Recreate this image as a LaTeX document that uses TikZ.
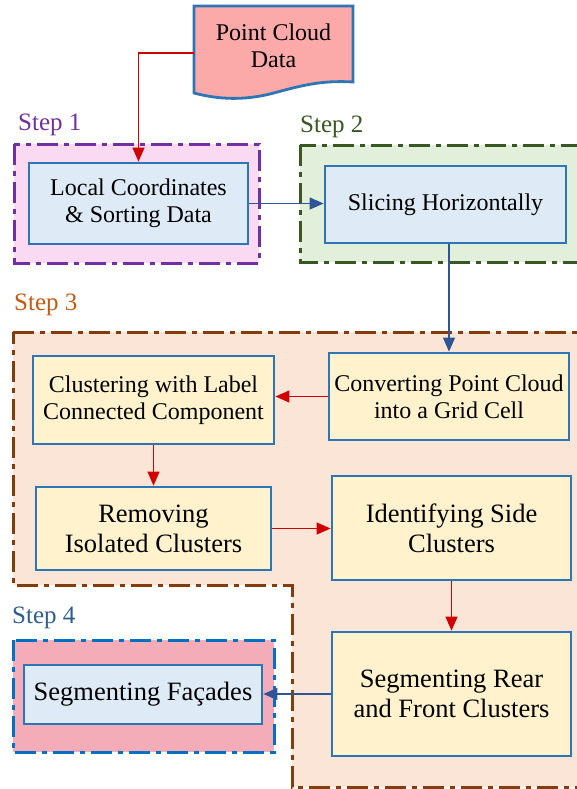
\documentclass[tikz,border=0pt]{standalone}
\usepackage{fontspec}
\setmainfont{Liberation Serif}
\newfontfamily\diagfont{Liberation Serif}
\usetikzlibrary{arrows.meta}
\definecolor{boxblue}{HTML}{2E75B6}
\definecolor{lightblue}{HTML}{DEEBF7}
\definecolor{lightyellow}{HTML}{FFF2CC}
\definecolor{pcdfill}{HTML}{FBA9A9}
\definecolor{sonefill}{HTML}{F9DAF2}
\definecolor{soneline}{HTML}{7030A0}
\definecolor{stwofill}{HTML}{E2EFDA}
\definecolor{stwoline}{HTML}{385723}
\definecolor{sthreefill}{HTML}{FBE5D6}
\definecolor{sthreeline}{HTML}{843C0C}
\definecolor{sthreelabel}{HTML}{C55A11}
\definecolor{sfourfill}{HTML}{F4ADB8}
\definecolor{sfourline}{HTML}{0070C0}
\definecolor{sfourlabel}{HTML}{2F5D8C}
\definecolor{redarrow}{HTML}{D00000}
\definecolor{bluearrow}{HTML}{2F5597}
\tikzset{
  procbox/.style={draw=boxblue, line width=2.8pt, inner sep=0pt, align=center, text=black},
  smalltext/.style={font=\diagfont\fontsize{24}{27}\selectfont},
  bigtext/.style={font=\diagfont\fontsize{26.5}{30}\selectfont},
  stepframe/.style={line width=3pt, dash pattern=on 21pt off 6pt on 5pt off 6pt},
  steplabel/.style={anchor=west, inner sep=0pt, font=\diagfont\fontsize{25}{28}\selectfont},
  redconn/.style={draw=redarrow, line width=1.2pt, -{Triangle[length=14pt,width=12pt]}},
  blueconn/.style={draw=bluearrow, line width=1.2pt, -{Triangle[length=14pt,width=12pt]}}
}
\begin{document}
\begin{tikzpicture}[x=1pt,y=-1pt]
\useasboundingbox (0,0) rectangle (577,789);
\clip (0,0) rectangle (577,789);

% step frames
\draw[stepframe, draw=soneline, fill=sonefill] (14,144) rectangle (259,263);
\draw[stepframe, draw=stwoline, fill=stwofill] (300,145) rectangle (590,262);
\draw[stepframe, draw=sthreeline, fill=sthreefill] (13,332) -- (590,332) -- (590,787) -- (292,787) -- (292,585) -- (13,585) -- cycle;
\draw[stepframe, draw=sfourline, fill=sfourfill] (13,640) rectangle (274,752);

% step labels
\node[steplabel, text=soneline] (lab1) at (18,125) {Step 1};
\node[steplabel, text=stwoline] (lab2) at (300,127) {Step 2};
\node[steplabel, text=sthreelabel] (lab3) at (14,305) {Step 3};
\node[steplabel, text=sfourlabel] (lab4) at (12,618) {Step 4};

% point cloud document shape
\draw[draw=boxblue, line width=2.8pt, fill=pcdfill] (194,6) -- (353,6) -- (353,82)
  .. controls (320,80) and (300,86) .. (270,94)
  .. controls (245,100) and (220,100) .. (194,93) -- cycle;
\node[inner sep=0pt, minimum width=159pt, minimum height=80pt, align=center, smalltext] (pcd) at (273.5,46) {Point Cloud\\Data};

% process boxes
\node[procbox, smalltext, fill=lightblue, minimum width=219pt, minimum height=81pt] (loc) at (138.5,203.5) {Local Coordinates\\\& Sorting Data};
\node[procbox, smalltext, fill=lightblue, minimum width=241pt, minimum height=77pt] (slice) at (445.5,204.5) {Slicing Horizontally};
\node[procbox, smalltext, fill=lightyellow, minimum width=240pt, minimum height=87pt] (conv) at (449,396.5) {Converting Point Cloud\\into a Grid Cell};
\node[procbox, smalltext, fill=lightyellow, minimum width=241pt, minimum height=88pt] (clus) at (153.5,400) {Clustering with Label\\Connected Component};
\node[procbox, bigtext, fill=lightyellow, minimum width=235pt, minimum height=83pt] (rem) at (153.5,528.5) {Removing\\Isolated Clusters};
\node[procbox, bigtext, fill=lightyellow, minimum width=239pt, minimum height=104pt] (ident) at (451.5,528) {Identifying Side\\Clusters};
\node[procbox, bigtext, fill=lightyellow, minimum width=239pt, minimum height=124pt] (rear) at (451.5,694) {Segmenting Rear\\and Front Clusters};
\node[procbox, bigtext, fill=lightblue, minimum width=238pt, minimum height=59pt] (fac) at (143,694.5) {Segmenting Façades};

% connectors
\draw[redconn] ([yshift=-7pt]pcd.west) -| (loc.north);
\draw[blueconn] (loc.east) -- (loc.east -| slice.west);
\draw[blueconn] (slice.south -| conv.north) -- (conv.north);
\draw[redconn] (conv.west) -- (conv.west -| clus.east);
\draw[redconn] (clus.south) -- (rem.north);
\draw[redconn] (rem.east) -- (rem.east -| ident.west);
\draw[redconn] (ident.south) -- (rear.north);
\draw[blueconn] (rear.west) -- (rear.west -| fac.east);
\end{tikzpicture}
\end{document}
